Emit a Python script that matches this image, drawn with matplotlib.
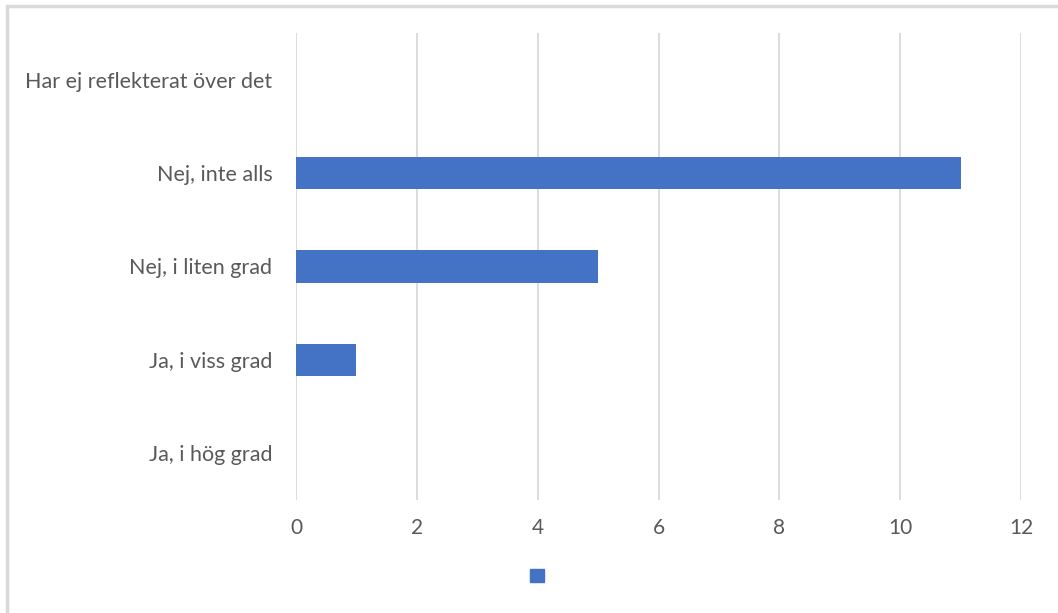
import matplotlib
matplotlib.use("Agg")
import matplotlib.pyplot as plt
from matplotlib.patches import Rectangle, Patch

categories = [
    "Ja, i hög grad",
    "Ja, i viss grad",
    "Nej, i liten grad",
    "Nej, inte alls",
    "Har ej reflekterat över det",
]
counts = [0, 1, 5, 11, 0]
x_ticks = [0, 2, 4, 6, 8, 10, 12]

bar_color = "#4472C4"
text_color = "#595959"
grid_color = "#D9D9D9"

plt.rcParams["font.family"] = ["Lato", "DejaVu Sans"]

fig = plt.figure(figsize=(10.58, 6.13), dpi=100)
ax = fig.add_axes([296 / 1058, 1 - 500 / 613, (1021 - 296) / 1058, (500 - 33) / 613])

ypos = list(range(len(categories)))
ax.barh(ypos, counts, height=0.35, color=bar_color, zorder=3)

ax.set_xlim(0, 12)
ax.set_ylim(-0.5, len(categories) - 0.5)
ax.set_xticks(x_ticks)
ax.set_xticklabels([str(t) for t in x_ticks])
ax.set_yticks(ypos)
ax.set_yticklabels(categories)

ax.grid(axis="x", color=grid_color, linewidth=1.3, zorder=0)
for s in ax.spines.values():
    s.set_visible(False)
ax.tick_params(axis="both", length=0, colors=text_color)
ax.tick_params(axis="x", pad=13, labelsize=15)
ax.tick_params(axis="y", pad=17, labelsize=15.5)

# series legend with an unlabeled swatch
fig.legend(handles=[Patch(facecolor=bar_color, edgecolor=bar_color)], labels=[""],
           loc="center", bbox_to_anchor=(537 / 1058, 1 - 577 / 613),
           frameon=False, handlelength=0.75, handleheight=0.75, handletextpad=0,
           fontsize=13)

# chart area outline
fig.patches.append(Rectangle((7 / 1058, -0.05), 1.2, 1 - 6 / 613 + 0.05,
                             transform=fig.transFigure, fill=False,
                             edgecolor="#D9D9D9", linewidth=2.5))

fig.savefig("out.png", dpi=100, facecolor="white")
